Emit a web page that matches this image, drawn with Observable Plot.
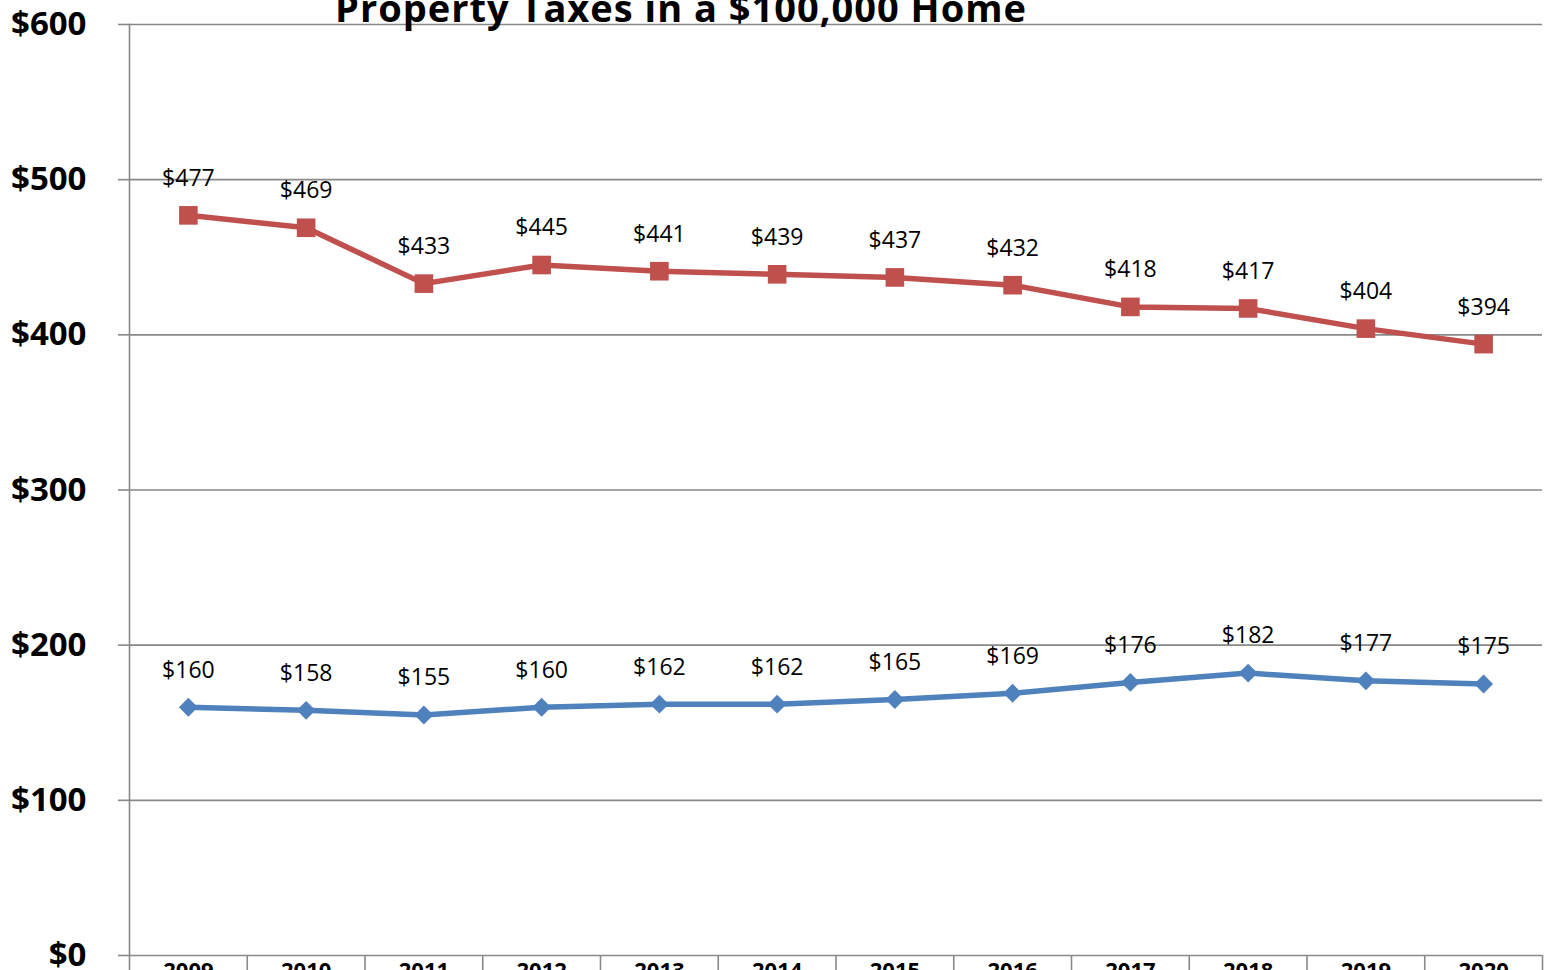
<!DOCTYPE html>
<html>
<head>
<meta charset="utf-8">
<script src="https://cdn.jsdelivr.net/npm/d3@7"></script>
<script src="https://cdn.jsdelivr.net/npm/@observablehq/plot@0.6"></script>
<style>
  html, body { margin: 0; padding: 0; background: #fff; overflow: hidden; }
  #wrap { position: relative; width: 1546px; height: 970px; overflow: hidden; }
  #title { position: absolute; left: 0; top: -12px; width: 1362px; text-align: center;
    font-family: "Open Sans", sans-serif; font-weight: 700; font-size: 38px; line-height: 38px;
    letter-spacing: 1px; color: #000; }
  #chart { position: absolute; left: 0; top: 0; }
</style>
</head>
<body>
<div id="wrap">
  <div id="chart"></div>
  <div id="title">Property Taxes in a $100,000 Home</div>
</div>
<script>
const years = [2009, 2010, 2011, 2012, 2013, 2014, 2015, 2016, 2017, 2018, 2019, 2020];
const upperSeries = [477, 469, 433, 445, 441, 439, 437, 432, 418, 417, 404, 394];
const lowerSeries = [160, 158, 155, 160, 162, 162, 165, 169, 176, 182, 177, 175];
const yTicks = [0, 100, 200, 300, 400, 500, 600];

const red = "#C0504D";
const blue = "#4F81BD";
const grid = "#898989";

const upper = years.map((year, i) => ({year, value: upperSeries[i]}));
const lower = years.map((year, i) => ({year, value: lowerSeries[i]}));
const bounds = [years[0] - 0.5, ...years.map(y => y + 0.5)];
const fmt = v => "$" + v;

const chart = Plot.plot({
  width: 1546,
  height: 970,
  marginLeft: 129,
  marginRight: 4,
  marginTop: 24,
  marginBottom: 15,
  style: {fontFamily: "'Open Sans', sans-serif", background: "#fff", overflow: "visible"},
  x: {type: "linear", domain: [years[0] - 0.5, years[years.length - 1] + 0.5]},
  y: {domain: [0, 600]},
  marks: [
    Plot.ruleY(yTicks, {stroke: grid, strokeWidth: 1.6}),
    Plot.axisY(yTicks, {
      tickSize: 11, tickPadding: 32, stroke: grid, strokeWidth: 1.6, tickFormat: fmt,
      fontSize: 33, fontWeight: 700, fill: "#000", label: null
    }),
    Plot.frame({anchor: "left", stroke: grid, strokeWidth: 1.6}),
    Plot.axisX(bounds, {tickSize: 15, tickFormat: () => "", stroke: grid, strokeWidth: 1.6, label: null}),
    Plot.axisX(years, {tickSize: 0, tickPadding: 7, tickFormat: d => String(d),
      fontSize: 22, fontWeight: 700, fill: "#000", label: null}),
    Plot.line(upper, {x: "year", y: "value", stroke: red, strokeWidth: 5.5}),
    Plot.dot(upper, {x: "year", y: "value", symbol: "square", r: 10.5, fill: red, stroke: "none"}),
    Plot.line(lower, {x: "year", y: "value", stroke: blue, strokeWidth: 5.5}),
    Plot.dot(lower, {x: "year", y: "value", symbol: "diamond2", r: 8.5, fill: blue, stroke: "none"}),
    Plot.text(upper, {x: "year", y: "value", text: d => fmt(d.value), dy: -37, fontSize: 23, fill: "#000"}),
    Plot.text(lower, {x: "year", y: "value", text: d => fmt(d.value), dy: -37, fontSize: 23, fill: "#000"})
  ]
});
document.getElementById("chart").appendChild(chart);
</script>
</body>
</html>
